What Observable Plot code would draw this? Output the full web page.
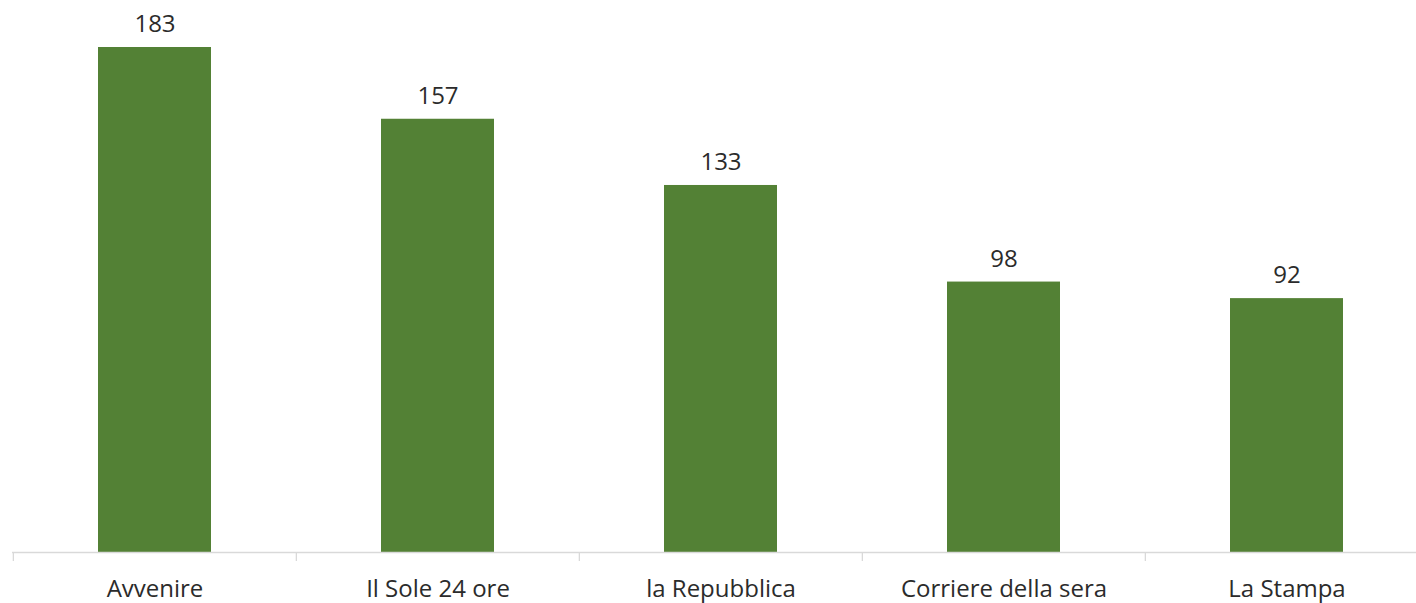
<!DOCTYPE html>
<html>
<head>
<meta charset="utf-8">
<script src="https://cdn.jsdelivr.net/npm/d3@7"></script>
<script src="https://cdn.jsdelivr.net/npm/@observablehq/plot@0.6"></script>
<style>
  html, body { margin: 0; padding: 0; background: #fff; }
  #chart svg { display: block; }
</style>
</head>
<body>
<div id="chart"></div>
<script>
const categories = ["Avvenire", "Il Sole 24 ore", "la Repubblica", "Corriere della sera", "La Stampa"];
const values = [183, 157, 133, 98, 92];

const data = categories.map((c, i) => ({category: c, value: values[i]}));

const W = 1416, H = 603;
const xRange = [12, 1428.5];
const step = (xRange[1] - xRange[0]) / categories.length;
const font = "'Open Sans', sans-serif";
const textColor = "#2b2b2b";

const chart = Plot.plot({
  width: W,
  height: H,
  marginLeft: 12,
  marginRight: 0,
  marginTop: 0,
  marginBottom: 51,
  style: {fontFamily: font, background: "#fff", overflow: "visible"},
  x: {domain: categories, range: xRange, paddingInner: 0.6, paddingOuter: 0.3, label: null},
  y: {domain: [0, 183], range: [552, 47], axis: null},
  marks: [
    Plot.barY(data, {x: "category", y: "value", fill: "#538135"}),
    Plot.ruleY([0], {stroke: "#d9d9d9", strokeWidth: 1.3}),
    Plot.ruleX(categories, {x: d => d, y1: 0, y2: 0, dx: -step / 2, insetBottom: -9, stroke: "#d9d9d9", strokeWidth: 1.3}),
    Plot.text(data, {x: "category", y: "value", text: d => String(d.value), dy: -23, lineAnchor: "middle", fontSize: 24, fill: textColor}),
    Plot.axisX({tickSize: 0, tickPadding: 27, fontSize: 24, fill: textColor, label: null, lineAnchor: "top"})
  ]
});
document.getElementById("chart").appendChild(chart);
</script>
</body>
</html>
